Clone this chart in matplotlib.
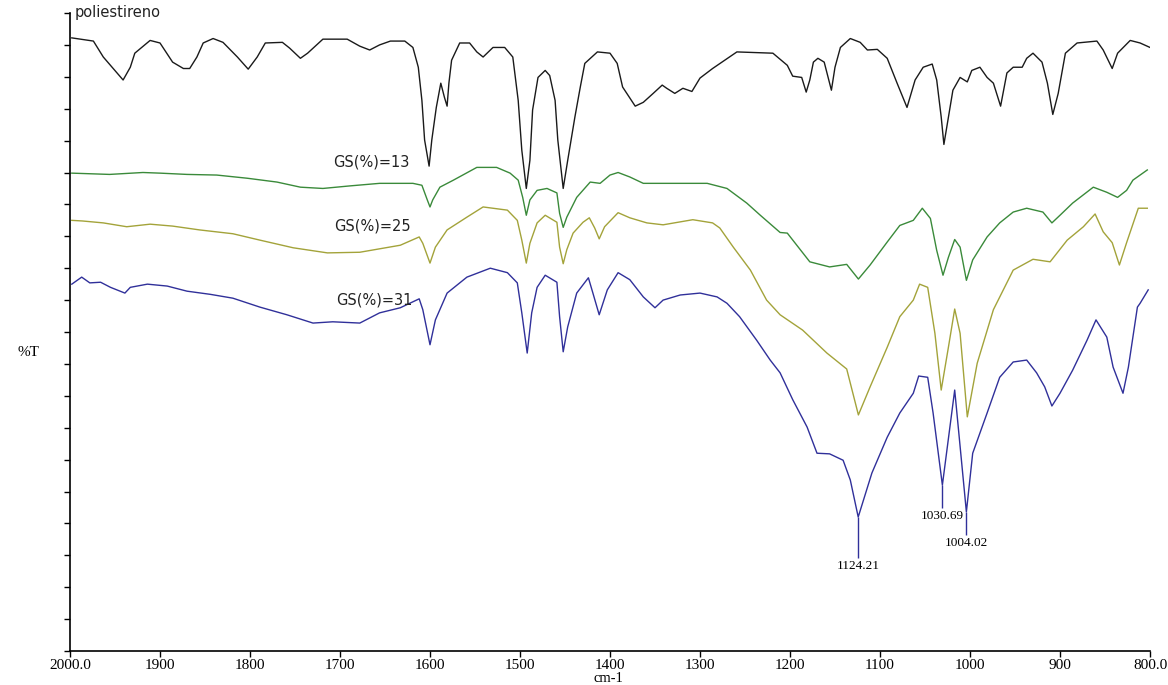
import numpy as np
import matplotlib.pyplot as plt

# Espectros FTIR: numero de onda (cm-1) y %T (escala arbitraria 0-100)

wn_ps = [1998, 1974, 1963, 1952, 1941, 1933, 1928, 1911, 1900, 1886, 1874, 1867, 1859, 1852,
         1841, 1830, 1814, 1802, 1792, 1783, 1764, 1756, 1744, 1736, 1719, 1692, 1678, 1667,
         1656, 1644, 1633, 1628, 1619, 1613, 1609, 1606, 1601, 1598, 1593, 1588, 1584, 1581,
         1579, 1576, 1567, 1556, 1548, 1541, 1530, 1517, 1508, 1502, 1498, 1493, 1489, 1486,
         1480, 1472, 1467, 1461, 1458, 1452, 1447, 1439, 1433, 1428, 1414, 1400, 1392, 1386,
         1372, 1363, 1352, 1342, 1337, 1328, 1319, 1309, 1300, 1286, 1259, 1219, 1203, 1197,
         1187, 1182, 1178, 1174, 1169, 1162, 1154, 1150, 1144, 1133, 1122, 1114, 1103, 1092,
         1081, 1070, 1061, 1052, 1042, 1037, 1032, 1029, 1024, 1019, 1011, 1003, 998, 989,
         981, 974, 966, 959, 952, 942, 937, 930, 920, 914, 908, 902, 894, 881, 859, 852, 842,
         836, 822, 811, 800]
t_ps = [96.1, 95.6, 93.1, 91.3, 89.5, 91.5, 93.7, 95.7, 95.3, 92.3, 91.3, 91.3, 93.1, 95.3,
        96.0, 95.4, 93.1, 91.2, 93.1, 95.3, 95.4, 94.5, 92.9, 93.7, 95.9, 95.9, 94.8, 94.2,
        95.0, 95.6, 95.6, 95.6, 94.6, 91.5, 86.3, 80.1, 76.0, 80.1, 85.2, 89.0, 86.8, 85.4,
        89.0, 92.6, 95.3, 95.3, 93.9, 93.1, 94.6, 94.6, 93.1, 86.3, 78.5, 72.5, 76.9, 84.8,
        89.9, 91.0, 90.2, 86.3, 80.1, 72.5, 76.9, 83.7, 88.4, 92.1, 93.9, 93.7, 92.1, 88.4,
        85.4, 86.0, 87.4, 88.7, 88.2, 87.4, 88.2, 87.7, 89.8, 91.3, 93.9, 93.7, 91.8, 90.1,
        89.9, 87.6, 89.5, 92.3, 92.9, 92.3, 87.9, 91.5, 94.6, 96.0, 95.4, 94.2, 94.3, 92.9,
        89.0, 85.2, 89.5, 91.5, 92.0, 89.5, 83.7, 79.4, 83.7, 87.9, 89.9, 89.2, 91.0, 91.5,
        89.9, 89.0, 85.4, 90.6, 91.5, 91.5, 92.9, 93.7, 92.3, 89.0, 84.1, 87.4, 93.7, 95.3,
        95.6, 94.2, 91.3, 93.7, 95.7, 95.3, 94.6]

wn_13 = [1998, 1956, 1919, 1900, 1870, 1837, 1803, 1770, 1744, 1719, 1689, 1656, 1619, 1609,
         1603, 1600, 1597, 1589, 1574, 1548, 1526, 1511, 1502, 1497, 1493, 1489, 1481, 1470,
         1459, 1456, 1452, 1448, 1437, 1422, 1411, 1400, 1391, 1378, 1363, 1341, 1292, 1270,
         1248, 1233, 1211, 1203, 1178, 1156, 1137, 1124, 1111, 1092, 1078, 1063, 1053, 1044,
         1037, 1030, 1024, 1017, 1011, 1004, 997, 981, 967, 952, 937, 919, 909, 900, 886, 863,
         848, 836, 826, 819, 803]
t_13 = [74.9, 74.7, 75.0, 74.9, 74.7, 74.6, 74.1, 73.5, 72.7, 72.5, 72.9, 73.3, 73.3, 73.0,
        70.7, 69.6, 70.7, 72.7, 73.8, 75.8, 75.8, 74.9, 73.8, 71.1, 68.3, 70.7, 72.2, 72.5,
        71.8, 68.6, 66.4, 68.0, 71.1, 73.5, 73.3, 74.6, 75.0, 74.3, 73.3, 73.3, 73.3, 72.5,
        70.2, 68.3, 65.6, 65.5, 61.0, 60.2, 60.6, 58.3, 60.5, 64.1, 66.7, 67.5, 69.4, 67.8,
        62.8, 58.9, 61.7, 64.5, 63.3, 58.1, 61.3, 64.9, 67.1, 68.8, 69.4, 68.8, 67.1, 68.3,
        70.2, 72.7, 71.9, 71.1, 72.2, 73.8, 75.4]

wn_25 = [1998, 1986, 1963, 1937, 1911, 1886, 1856, 1819, 1789, 1752, 1714, 1678, 1633, 1612,
         1608, 1600, 1594, 1581, 1559, 1541, 1514, 1503, 1498, 1493, 1489, 1481, 1472, 1459,
         1456, 1452, 1448, 1441, 1430, 1423, 1417, 1412, 1406, 1391, 1378, 1359, 1341, 1308,
         1286, 1278, 1263, 1244, 1226, 1211, 1186, 1159, 1137, 1124, 1111, 1092, 1078, 1063,
         1056, 1047, 1039, 1032, 1024, 1017, 1011, 1003, 992, 974, 952, 930, 911, 892, 874,
         861, 852, 842, 834, 826, 813, 803]
t_25 = [67.5, 67.4, 67.1, 66.5, 66.9, 66.6, 66.0, 65.4, 64.4, 63.2, 62.4, 62.5, 63.6, 64.9,
        63.9, 60.8, 63.3, 66.0, 68.0, 69.6, 69.1, 67.5, 64.4, 60.8, 63.9, 67.1, 68.3, 67.2,
        63.3, 60.7, 62.9, 65.5, 67.2, 67.9, 66.3, 64.6, 66.5, 68.7, 67.9, 67.1, 66.8, 67.6,
        67.1, 66.3, 63.3, 59.7, 55.0, 52.7, 50.3, 46.7, 44.2, 37.0, 41.4, 47.6, 52.4, 55.0,
        57.5, 57.0, 49.8, 40.9, 47.6, 53.6, 49.8, 36.7, 45.1, 53.5, 59.7, 61.4, 61.0, 64.4,
        66.5, 68.5, 65.7, 64.0, 60.5, 64.0, 69.4, 69.4]

wn_31 = [1998, 1987, 1978, 1966, 1955, 1939, 1933, 1914, 1892, 1870, 1844, 1819, 1789, 1759,
         1730, 1708, 1678, 1656, 1633, 1612, 1608, 1600, 1594, 1581, 1559, 1533, 1514, 1503,
         1498, 1492, 1487, 1481, 1472, 1459, 1456, 1452, 1447, 1437, 1424, 1419, 1412, 1403,
         1391, 1378, 1363, 1350, 1341, 1322, 1300, 1281, 1270, 1256, 1237, 1222, 1211, 1197,
         1181, 1170, 1156, 1141, 1133, 1124.21, 1109, 1092, 1078, 1063, 1057, 1047, 1041,
         1030.69, 1017, 1004.02, 997, 981, 967, 952, 937, 926, 917, 909, 900, 886, 870, 860,
         848, 841, 830, 824, 814, 811, 802]
t_31 = [57.5, 58.6, 57.7, 57.8, 57.0, 56.1, 57.0, 57.5, 57.2, 56.4, 55.9, 55.3, 53.9, 52.7,
        51.4, 51.6, 51.4, 53.0, 53.8, 55.2, 53.5, 48.0, 51.9, 56.1, 58.6, 60.0, 59.3, 57.7,
        53.0, 46.7, 53.0, 57.0, 58.9, 57.8, 52.4, 46.9, 50.8, 56.1, 58.5, 56.1, 52.7, 56.6,
        59.3, 58.2, 55.5, 53.8, 55.0, 55.8, 56.1, 55.5, 54.5, 52.4, 48.7, 45.6, 43.6, 39.4,
        35.1, 31.0, 30.9, 29.9, 26.8, 21.0, 27.9, 33.5, 37.3, 40.4, 43.1, 42.9, 37.3,
        26.0, 40.9, 21.8, 31.0, 37.3, 42.9, 45.3, 45.6, 43.6, 41.4, 38.4, 40.4, 44.0, 48.7, 51.9,
        49.2, 44.5, 40.4, 44.5, 53.9, 54.5, 56.6]

# picos marcados en GS(%)=31
picos = [1124.21, 1030.69, 1004.02]
picos_t = [21.0, 26.0, 21.8]
picos_bajada = [6.4, 3.6, 3.6]

xticks = [2000, 1900, 1800, 1700, 1600, 1500, 1400, 1300, 1200, 1100, 1000, 900, 800]
xlabels = ['2000.0', '1900', '1800', '1700', '1600', '1500', '1400', '1300', '1200',
           '1100', '1000', '900', '800.0']

fig = plt.figure(figsize=(11.68, 6.85), dpi=100)
ax = fig.add_axes([70/1168, 34/685, 1080/1168, 638/685])

ax.plot(wn_ps, t_ps, color='#1a1a1a', lw=1.0)
ax.plot(wn_13, t_13, color='#3a8a3a', lw=1.0)
ax.plot(wn_25, t_25, color='#a3a33a', lw=1.0)
ax.plot(wn_31, t_31, color='#30309a', lw=1.0)

# etiquetas de las curvas
sans = {'family': 'DejaVu Sans', 'size': 10.5, 'color': '#222222'}
ax.text(1995, 100, 'poliestireno', va='center', ha='left', **sans)
ax.text(1665, 76.6, 'GS(%)=13', va='center', ha='center', **sans)
ax.text(1664, 66.6, 'GS(%)=25', va='center', ha='center', **sans)
ax.text(1662, 55.0, 'GS(%)=31', va='center', ha='center', **sans)

for p, t, d in zip(picos, picos_t, picos_bajada):
    ax.vlines(p, t - d, t, color='#30309a', lw=1.0)
    ax.text(p, t - d - 1.3, f'{p:.2f}', ha='center', va='center',
            family='Liberation Serif', size=9.5, color='black')

ax.set_xlim(2000, 800)
ax.set_ylim(0, 100)
ax.set_xticks(xticks)
ax.set_xticklabels(xlabels, family='Liberation Serif', fontsize=11)
ax.set_yticks(np.arange(0, 101, 5))
ax.set_yticklabels([])
ax.tick_params(axis='both', direction='out', length=4, width=1.0, color='black', pad=2)

for s in ['top', 'right']:
    ax.spines[s].set_visible(False)
for s in ['left', 'bottom']:
    ax.spines[s].set_linewidth(1.2)

# "cm-1" un poco a la derecha y debajo de la etiqueta 1400
fig.text(608/1168, 1 - 679/685, 'cm-1', family='Liberation Serif', fontsize=10.5,
         ha='center', va='center')
fig.text(28/1168, 1 - 352/685, '%T', family='Liberation Serif', fontsize=11,
         ha='center', va='center')

fig.savefig('out.png', dpi=100)
